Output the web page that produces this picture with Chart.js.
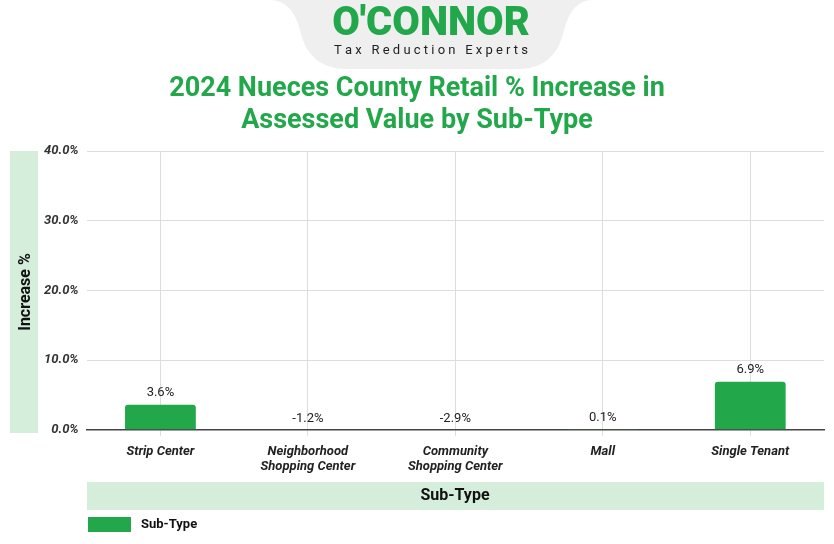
<!DOCTYPE html>
<html><head><meta charset="utf-8">
<script src="https://cdn.jsdelivr.net/npm/chart.js@4"></script>
<style>html,body{margin:0;padding:0;background:#fff}#w{width:834px;height:544px}</style>
</head><body><div id="w"><canvas id="c"></canvas></div>
<script>
const categories = [["Strip Center"], ["Neighborhood","Shopping Center"], ["Community","Shopping Center"], ["Mall"], ["Single Tenant"]];
const increasePct = [3.6, -1.2, -2.9, 0.1, 6.9];
const seriesName = "Sub-Type";
const titleLines = ["2024 Nueces County Retail % Increase in", "Assessed Value by Sub-Type"];
const GREEN = "#22a84a";

const deco = {
  id: 'deco',
  beforeDraw(ch) {
    const c = ch.ctx;
    c.save();
    c.fillStyle = "#efefef";
    c.beginPath();
    c.moveTo(270, 0); c.quadraticCurveTo(292, 0, 300, 30);
    c.quadraticCurveTo(308, 68, 345, 69);
    c.lineTo(520, 69); c.quadraticCurveTo(556, 68, 564, 30);
    c.quadraticCurveTo(572, 0, 592, 0); c.closePath(); c.fill();
    c.fillStyle = GREEN; c.font = "900 40px Roboto"; c.textAlign = "center"; c.textBaseline = "middle";
    c.fillText("O'CONNOR", 431, 25);
    c.fillStyle = "#222"; c.font = "13px Roboto";
    c.fillText("T a x   R e d u c t i o n   E x p e r t s", 431, 51);
    c.fillStyle = GREEN; c.font = "bold 27px Roboto";
    c.fillText(titleLines[0], 417, 89); c.fillText(titleLines[1], 417, 121);
    c.fillStyle = "#d5eedb"; c.fillRect(10, 151, 28, 282);
    c.save(); c.translate(26, 292); c.rotate(-Math.PI/2);
    c.fillStyle = "#111"; c.font = "bold 16px Roboto"; c.fillText("Increase %", 0, 0); c.restore();
    c.fillStyle = "#d5eedb"; c.fillRect(87, 482, 737, 28);
    c.fillStyle = "#111"; c.font = "bold 16px Roboto"; c.fillText("Sub-Type", 455, 496);
    c.fillStyle = GREEN; c.fillRect(88, 517, 43, 15);
    c.fillStyle = "#111"; c.font = "bold 13px Roboto"; c.textAlign = "left";
    c.fillText(seriesName, 141, 525);
    c.restore();
  },
  afterDatasetsDraw(ch) {
    const c = ch.ctx, y = ch.scales.y, meta = ch.getDatasetMeta(0);
    c.save(); c.fillStyle = "#222"; c.font = "13px Roboto"; c.textAlign = "center"; c.textBaseline = "bottom";
    increasePct.forEach((v, i) => {
      const py = y.getPixelForValue(Math.max(v, 0));
      c.fillText(v.toFixed(1) + "%", meta.data[i].x, py - 5);
    });
    c.restore();
  }
};

new Chart(document.getElementById('c'), {
  type: 'bar',
  data: { labels: categories, datasets: [{ label: seriesName, data: increasePct, backgroundColor: GREEN,
    borderRadius: 3, borderSkipped: 'bottom', barPercentage: 0.48, categoryPercentage: 1 }] },
  options: {
    responsive: true, maintainAspectRatio: false, animation: false,
    layout: { padding: { top: 151, left: 36, right: 10, bottom: 61 } },
    plugins: { legend: { display: false }, tooltip: { enabled: false } },
    scales: {
      y: { min: 0, max: 40, ticks: { stepSize: 10, callback: v => v.toFixed(1) + "%", color: "#333",
             font: { family: "Roboto", size: 13, style: "italic", weight: "bold" }, padding: 8 },
           grid: { color: "#dddddd", drawTicks: false }, border: { display: false } },
      x: { ticks: { color: "#222", font: { family: "Roboto", size: 13, style: "italic", weight: "bold" }, padding: 8 },
           grid: { color: "#dddddd", offset: false, drawTicks: true, tickLength: 6 }, border: { color: "#444", width: 1.5 } }
    }
  },
  plugins: [deco]
});
</script></body></html>
